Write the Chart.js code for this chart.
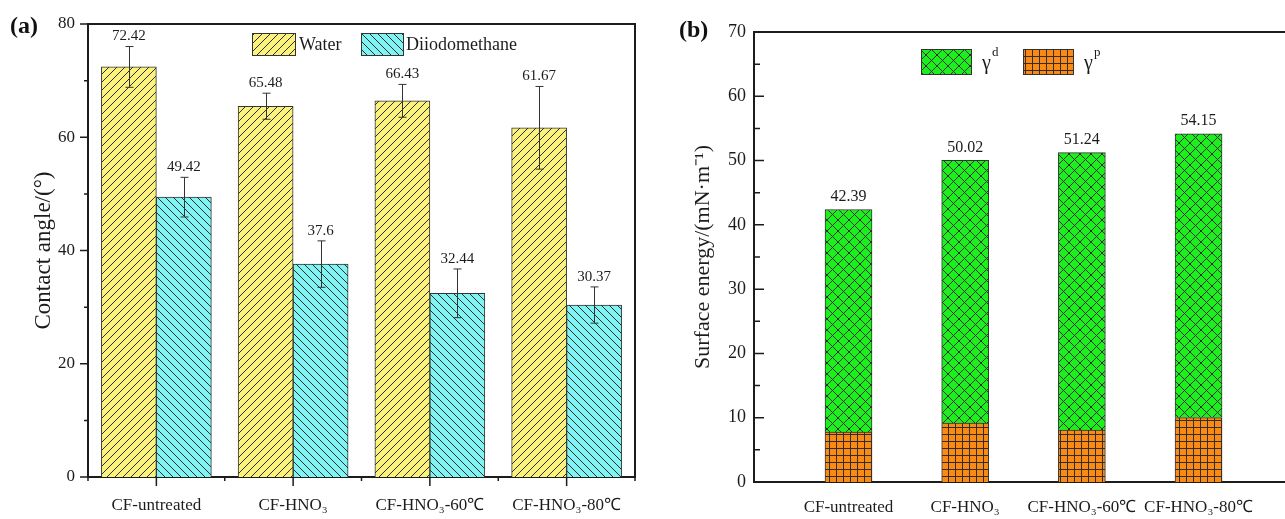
<!DOCTYPE html>
<html>
<head>
<meta charset="utf-8">
<script src="https://cdn.jsdelivr.net/npm/chart.js@4.4.1/dist/chart.umd.min.js"></script>
<style>
  body { margin: 0; background: #fff; width: 1285px; height: 519px; position: relative; overflow: hidden; }
  .panel { position: absolute; top: 0; height: 519px; }
  #wrapA { left: 0; width: 640px; }
  #wrapB { left: 640px; width: 645px; }
  .tag { position: absolute; font: bold 24px "Liberation Serif", serif; color: #111; line-height: 24px; }
</style>
</head>
<body>
<div class="panel" id="wrapA"><canvas id="chartA" width="640" height="519"></canvas></div>
<div class="panel" id="wrapB"><canvas id="chartB" width="645" height="519"></canvas></div>
<div class="tag" style="left:10px; top:13px">(a)</div>
<div class="tag" style="left:679px; top:17px">(b)</div>
<script>
// data
var samples = ['CF-untreated', 'CF-HNO₃', 'CF-HNO₃-60℃', 'CF-HNO₃-80℃'];

var waterAngle = [72.42, 65.48, 66.43, 61.67];
var waterErr = [3.6, 2.3, 2.9, 7.3];
var diiodoAngle = [49.42, 37.6, 32.44, 30.37];
var diiodoErr = [3.5, 4.1, 4.3, 3.2];
var angleTicks = [0, 20, 40, 60, 80];

var gammaD = [34.63, 40.84, 43.18, 44.13];
var gammaP = [7.76, 9.18, 8.06, 10.02];
var totalEnergy = [42.39, 50.02, 51.24, 54.15];
var energyTicks = [0, 10, 20, 30, 40, 50, 60, 70];

var ink = '#1c1c1c';
var serif = '"Liberation Serif", "Times New Roman", serif';

function makePattern(ctx, bg, size, kind) {
  var c = document.createElement('canvas');
  c.width = size; c.height = size;
  var g = c.getContext('2d');
  g.fillStyle = bg;
  g.fillRect(0, 0, size, size);
  g.strokeStyle = '#2e2e2e';
  g.lineWidth = 1;
  g.beginPath();
  if (kind == 'slash' || kind == 'cross') {
    g.moveTo(-1, size + 1); g.lineTo(size + 1, -1);
    g.moveTo(-1, 1); g.lineTo(1, -1);
    g.moveTo(size - 1, size + 1); g.lineTo(size + 1, size - 1);
  }
  if (kind == 'back' || kind == 'cross') {
    g.moveTo(-1, -1); g.lineTo(size + 1, size + 1);
    g.moveTo(size - 1, -1); g.lineTo(size + 1, 1);
    g.moveTo(-1, size - 1); g.lineTo(1, size + 1);
  }
  if (kind == 'grid') {
    g.moveTo(0.5, 0); g.lineTo(0.5, size);
    g.moveTo(0, 0.5); g.lineTo(size, 0.5);
  }
  g.stroke();
  return ctx.createPattern(c, 'repeat');
}

function drawYTicks(chart, step, minor, len, minorLen, inward) {
  var ctx = chart.ctx, y = chart.scales.y, left = chart.chartArea.left;
  ctx.save();
  ctx.strokeStyle = ink;
  ctx.lineWidth = 1.5;
  ctx.beginPath();
  for (var v = y.min; v <= y.max + 1e-6; v += minor) {
    var p = y.getPixelForValue(v);
    var l = (Math.abs(v / step - Math.round(v / step)) < 1e-6) ? len : minorLen;
    ctx.moveTo(left, p);
    ctx.lineTo(inward ? left + l : left - l, p);
  }
  ctx.stroke();
  ctx.restore();
}

function drawBox(ctx, x, y, w, h, fill) {
  ctx.fillStyle = fill;
  ctx.fillRect(x, y, w, h);
  ctx.strokeStyle = '#333';
  ctx.lineWidth = 1;
  ctx.strokeRect(x + 0.5, y + 0.5, w, h);
}

// ---------- (a) contact angle ----------
var ctxA = document.getElementById('chartA').getContext('2d');
var yellowHatch = makePattern(ctxA, '#fbf27c', 8, 'slash');
var cyanHatch = makePattern(ctxA, '#80f3f3', 8, 'back');

var decorA = {
  id: 'decorA',
  afterDatasetsDraw: function(chart) {
    var ctx = chart.ctx, y = chart.scales.y;
    ctx.save();
    chart.data.datasets.forEach(function(ds, di) {
      chart.getDatasetMeta(di).data.forEach(function(bar, i) {
        var v = ds.data[i], e = ds.errors[i];
        var top = y.getPixelForValue(v + e), bot = y.getPixelForValue(v - e);
        var x = Math.round(bar.x) + 0.5;
        ctx.strokeStyle = '#333';
        ctx.lineWidth = 1;
        ctx.beginPath();
        ctx.moveTo(x, top); ctx.lineTo(x, bot);
        ctx.moveTo(x - 4, top); ctx.lineTo(x + 4, top);
        ctx.moveTo(x - 4, bot); ctx.lineTo(x + 4, bot);
        ctx.stroke();
        ctx.fillStyle = ink;
        ctx.font = '15px ' + serif;
        ctx.textAlign = 'center';
        ctx.textBaseline = 'middle';
        ctx.fillText(String(v), bar.x, top - 10);
      });
    });
    ctx.restore();
  },
  afterDraw: function(chart) {
    var ctx = chart.ctx, a = chart.chartArea, x = chart.scales.x;
    drawYTicks(chart, 20, 10, 8, 4, false);
    ctx.save();
    ctx.strokeStyle = ink;
    ctx.lineWidth = 1.5;
    ctx.beginPath();
    for (var i = 0; i < samples.length; i++) {
      var p = x.getPixelForValue(i);
      ctx.moveTo(p, a.bottom); ctx.lineTo(p, a.bottom + 9);
    }
    for (var j = 0; j <= samples.length; j++) {
      var q = x.getPixelForValue(j - 0.5);
      ctx.moveTo(q, a.bottom); ctx.lineTo(q, a.bottom + 4);
    }
    ctx.stroke();
    // frame top and right
    ctx.lineWidth = 2;
    ctx.beginPath();
    ctx.moveTo(a.left, a.top); ctx.lineTo(a.right, a.top); ctx.lineTo(a.right, a.bottom);
    ctx.stroke();
    // legend inside plot
    ctx.font = '18px ' + serif;
    ctx.textBaseline = 'middle';
    ctx.textAlign = 'left';
    var ds = chart.data.datasets;
    drawBox(ctx, 252, 33, 43, 22, ds[0].backgroundColor);
    ctx.fillStyle = ink;
    ctx.fillText(ds[0].label, 299, 45);
    drawBox(ctx, 361, 33, 42, 22, ds[1].backgroundColor);
    ctx.fillStyle = ink;
    ctx.fillText(ds[1].label, 406, 45);
    ctx.restore();
  }
};

new Chart(ctxA, {
  type: 'bar',
  data: {
    labels: samples,
    datasets: [
      { label: 'Water', data: waterAngle, errors: waterErr, backgroundColor: yellowHatch, borderColor: '#333', borderWidth: 1 },
      { label: 'Diiodomethane', data: diiodoAngle, errors: diiodoErr, backgroundColor: cyanHatch, borderColor: '#333', borderWidth: 1 }
    ]
  },
  options: {
    responsive: false,
    animation: false,
    barThickness: 55,
    layout: { padding: { top: 24, right: 5, left: 0, bottom: 0 } },
    plugins: { legend: { display: false }, tooltip: { enabled: false } },
    scales: {
      x: {
        grid: { display: false, drawTicks: false },
        border: { color: ink, width: 2 },
        ticks: { color: ink, font: { family: serif, size: 17 }, padding: 18, maxRotation: 0, autoSkip: false },
        afterFit: function(s) { s.height = 42; }
      },
      y: {
        min: angleTicks[0], max: angleTicks[angleTicks.length - 1],
        grid: { display: false, drawTicks: false },
        border: { color: ink, width: 2 },
        ticks: { stepSize: angleTicks[1] - angleTicks[0], color: ink, font: { family: serif, size: 17 }, padding: 13 },
        title: { display: true, text: 'Contact angle/(°)', color: ink, font: { family: serif, size: 23 }, padding: { top: 30, bottom: 0 } },
        afterFit: function(s) { s.width = 88; }
      }
    }
  },
  plugins: [decorA]
});

// ---------- (b) surface energy ----------
var ctxB = document.getElementById('chartB').getContext('2d');
var greenCross = makePattern(ctxB, '#1cf01c', 11, 'cross');
var orangeGrid = makePattern(ctxB, '#fa8a12', 7, 'grid');

var decorB = {
  id: 'decorB',
  afterDatasetsDraw: function(chart) {
    var ctx = chart.ctx, y = chart.scales.y;
    var bars = chart.getDatasetMeta(1).data;
    ctx.save();
    ctx.fillStyle = ink;
    ctx.font = '16px ' + serif;
    ctx.textAlign = 'center';
    ctx.textBaseline = 'middle';
    totalEnergy.forEach(function(t, i) {
      ctx.fillText(t.toFixed(2), bars[i].x, y.getPixelForValue(t) - 13);
    });
    ctx.restore();
  },
  afterDraw: function(chart) {
    var ctx = chart.ctx, a = chart.chartArea;
    drawYTicks(chart, 10, 5, 10, 6, true);
    ctx.save();
    ctx.strokeStyle = ink;
    ctx.lineWidth = 2;
    ctx.beginPath();
    ctx.moveTo(a.left, a.top); ctx.lineTo(a.right, a.top);
    ctx.stroke();
    var ds = chart.data.datasets;
    var items = [[ds[1], 281, 'd'], [ds[0], 383, 'p']];
    items.forEach(function(it) {
      drawBox(ctx, it[1], 49, 50, 25, it[0].backgroundColor);
      ctx.fillStyle = ink;
      ctx.textAlign = 'left';
      ctx.textBaseline = 'middle';
      ctx.font = '20px ' + serif;
      ctx.fillText('γ', it[1] + 61, 64);
      ctx.font = '13px ' + serif;
      ctx.fillText(it[2], it[1] + 71, 53);
    });
    ctx.restore();
  }
};

new Chart(ctxB, {
  type: 'bar',
  data: {
    datasets: [
      { label: 'γp', data: samples.map(function(s, i) { return { x: i + 1, y: gammaP[i] }; }), backgroundColor: orangeGrid, borderColor: '#333', borderWidth: 1 },
      { label: 'γd', data: samples.map(function(s, i) { return { x: i + 1, y: gammaD[i] }; }), backgroundColor: greenCross, borderColor: '#333', borderWidth: 1 }
    ]
  },
  options: {
    responsive: false,
    animation: false,
    barThickness: 47,
    layout: { padding: { top: 32, right: 0, left: 0, bottom: 0 } },
    plugins: { legend: { display: false }, tooltip: { enabled: false } },
    scales: {
      x: {
        type: 'linear', stacked: true, offset: false,
        min: 0.19, max: 4.741,
        grid: { display: false, drawTicks: false, offset: false },
        border: { color: ink, width: 2 },
        ticks: {
          stepSize: 1, includeBounds: false, autoSkip: false, maxRotation: 0,
          color: ink, font: { family: serif, size: 17 }, padding: 15,
          callback: function(v) { return Number.isInteger(v) ? samples[v - 1] : ''; }
        },
        afterFit: function(s) { s.height = 37; }
      },
      y: {
        stacked: true,
        min: energyTicks[0], max: energyTicks[energyTicks.length - 1],
        grid: { display: false, drawTicks: false },
        border: { color: ink, width: 2 },
        ticks: { stepSize: energyTicks[1] - energyTicks[0], color: ink, font: { family: serif, size: 18 }, padding: 8 },
        title: { display: true, text: 'Surface energy/(mN·m⁻¹)', color: ink, font: { family: serif, size: 22 }, padding: { top: 50, bottom: 0 } },
        afterFit: function(s) { s.width = 114; }
      }
    }
  },
  plugins: [decorB]
});
</script>
</body>
</html>
